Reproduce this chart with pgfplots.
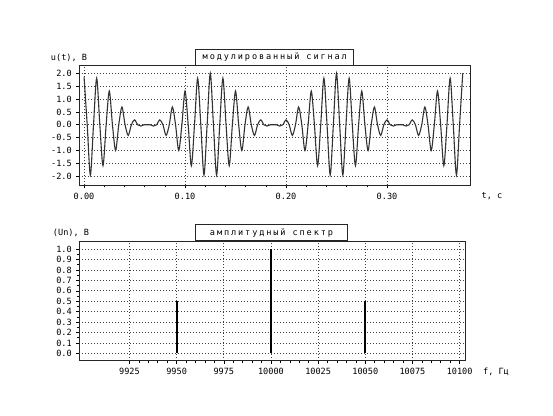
\documentclass[border=0pt]{standalone}
\usepackage{fontspec}
\setmainfont{DejaVu Sans Mono}
\newfontfamily\titlefont[LetterSpace=22]{DejaVu Sans Mono}
\usepackage{pgfplots}
\pgfplotsset{compat=1.18}

\newcommand{\lblfont}{\fontsize{8.6}{10}\selectfont}

\pgfplotsset{
  osc/.style={
    scale only axis,
    axis line style={black!85, line width=0.8bp},
    tick align=outside, tick pos=left,
    major tick length=3bp, minor tick length=2bp,
    every tick/.style={black, line width=0.6bp},
    grid=major,
    major grid style={dash pattern=on 1bp off 2bp, black!75, line width=0.7bp},
    ticklabel style={font=\lblfont},
    xticklabel style={yshift=-1bp},
    yticklabel style={xshift=-1bp},
    scaled x ticks=false, scaled y ticks=false,
    clip=true,
  }
}

\begin{document}
\begin{tikzpicture}[x=1bp, y=1bp]
\useasboundingbox (0,0) rectangle (553,415);
\fill[white] (0,0) rectangle (553,415);

% ---------- modulated signal ----------
\begin{axis}[osc,
  at={(79.3bp,229.7bp)}, anchor=south west,
  width=391bp, height=120bp,
  xmin=-0.0047, xmax=0.3825, ymin=-2.35, ymax=2.31,
  xtick={0,0.1,0.2,0.3}, xticklabels={0.00,0.10,0.20,0.30},
  minor x tick num=4,
  ytick={-2,-1.5,-1,-0.5,0.5,1,1.5,2},
  yticklabels={-2.0,-1.5,-1.0,-0.5,0.5,1.0,1.5,2.0},
  minor y tick num=4,
  extra y ticks={0}, extra y tick labels={0.0},
  extra y tick style={grid style={solid, black!85, line width=0.8bp}},
]
\addplot[black!80, line width=1.1bp, smooth, tension=0.5] coordinates {
(0,1.86) (0.003125,0) (0.00625,-1.951) (0.009375,0)
(0.0125,1.809) (0.015625,0) (0.01875,-1.588) (0.021875,0)
(0.025,1.309) (0.028125,0) (0.03125,-1.000) (0.034375,0)
(0.0375,0.691) (0.040625,0) (0.04375,-0.412) (0.046875,0)
(0.05,0.191) (0.053125,0) (0.05625,-0.049) (0.059375,0)
(0.0625,0) (0.065625,0) (0.06875,-0.049) (0.071875,0)
(0.075,0.191) (0.078125,0) (0.08125,-0.412) (0.084375,0)
(0.0875,0.691) (0.090625,0) (0.09375,-1.000) (0.096875,0)
(0.1,1.309) (0.103125,0) (0.10625,-1.588) (0.109375,0)
(0.1125,1.809) (0.115625,0) (0.11875,-1.951) (0.121875,0)
(0.125,2.000) (0.128125,0) (0.13125,-1.951) (0.134375,0)
(0.1375,1.809) (0.140625,0) (0.14375,-1.588) (0.146875,0)
(0.15,1.309) (0.153125,0) (0.15625,-1.000) (0.159375,0)
(0.1625,0.691) (0.165625,0) (0.16875,-0.412) (0.171875,0)
(0.175,0.191) (0.178125,0) (0.18125,-0.049) (0.184375,0)
(0.1875,0) (0.190625,0) (0.19375,-0.049) (0.196875,0)
(0.2,0.191) (0.203125,0) (0.20625,-0.412) (0.209375,0)
(0.2125,0.691) (0.215625,0) (0.21875,-1.000) (0.221875,0)
(0.225,1.309) (0.228125,0) (0.23125,-1.588) (0.234375,0)
(0.2375,1.809) (0.240625,0) (0.24375,-1.951) (0.246875,0)
(0.25,2.000) (0.253125,0) (0.25625,-1.951) (0.259375,0)
(0.2625,1.809) (0.265625,0) (0.26875,-1.588) (0.271875,0)
(0.275,1.309) (0.278125,0) (0.28125,-1.000) (0.284375,0)
(0.2875,0.691) (0.290625,0) (0.29375,-0.412) (0.296875,0)
(0.3,0.191) (0.303125,0) (0.30625,-0.049) (0.309375,0)
(0.3125,0) (0.315625,0) (0.31875,-0.049) (0.321875,0)
(0.325,0.191) (0.328125,0) (0.33125,-0.412) (0.334375,0)
(0.3375,0.691) (0.340625,0) (0.34375,-1.000) (0.346875,0)
(0.35,1.309) (0.353125,0) (0.35625,-1.588) (0.359375,0)
(0.3625,1.809) (0.365625,0) (0.36875,-1.951) (0.371875,0)
(0.375,2.000)
};
\end{axis}
\node[draw=black!85, line width=0.8bp, fill=white, inner sep=0pt,
      minimum width=158bp, minimum height=15.3bp, anchor=south,
      font=\titlefont\fontsize{8.6}{10}\selectfont]
  at (274.8,349.7) {модулированный сигнал};
\node[font=\lblfont] at (69,357) {u(t), B};
\node[font=\lblfont] at (492,219) {t, c};

% ---------- amplitude spectrum ----------
\begin{axis}[osc,
  at={(79.3bp,54.3bp)}, anchor=south west,
  width=386bp, height=119.7bp,
  xmin=9898.4, xmax=10103, ymin=-0.07, ymax=1.078,
  xtick={9925,9950,9975,10000,10025,10050,10075,10100},
  xticklabels={9925,9950,9975,10000,10025,10050,10075,10100},
  minor x tick num=4,
  ytick={0.1,0.2,0.3,0.4,0.5,0.6,0.7,0.8,0.9,1.0},
  yticklabels={0.1,0.2,0.3,0.4,0.5,0.6,0.7,0.8,0.9,1.0},
  minor y tick num=1,
  extra y ticks={0}, extra y tick labels={0.0},
  extra y tick style={grid style={solid, black!85, line width=0.8bp}},
]
\addplot[ycomb, black, line width=1.8bp] coordinates {
(9950,0.5) (10000,1.0) (10050,0.5)
};
\end{axis}
\node[draw=black!85, line width=0.8bp, fill=white, inner sep=0pt,
      minimum width=152.4bp, minimum height=16bp, anchor=south,
      font=\titlefont\fontsize{8.6}{10}\selectfont]
  at (271.5,174) {амплитудный спектр};
\node[font=\lblfont] at (71,182) {(Un), B};
\node[font=\lblfont] at (496,43) {f, Гц};
\end{tikzpicture}
\end{document}
